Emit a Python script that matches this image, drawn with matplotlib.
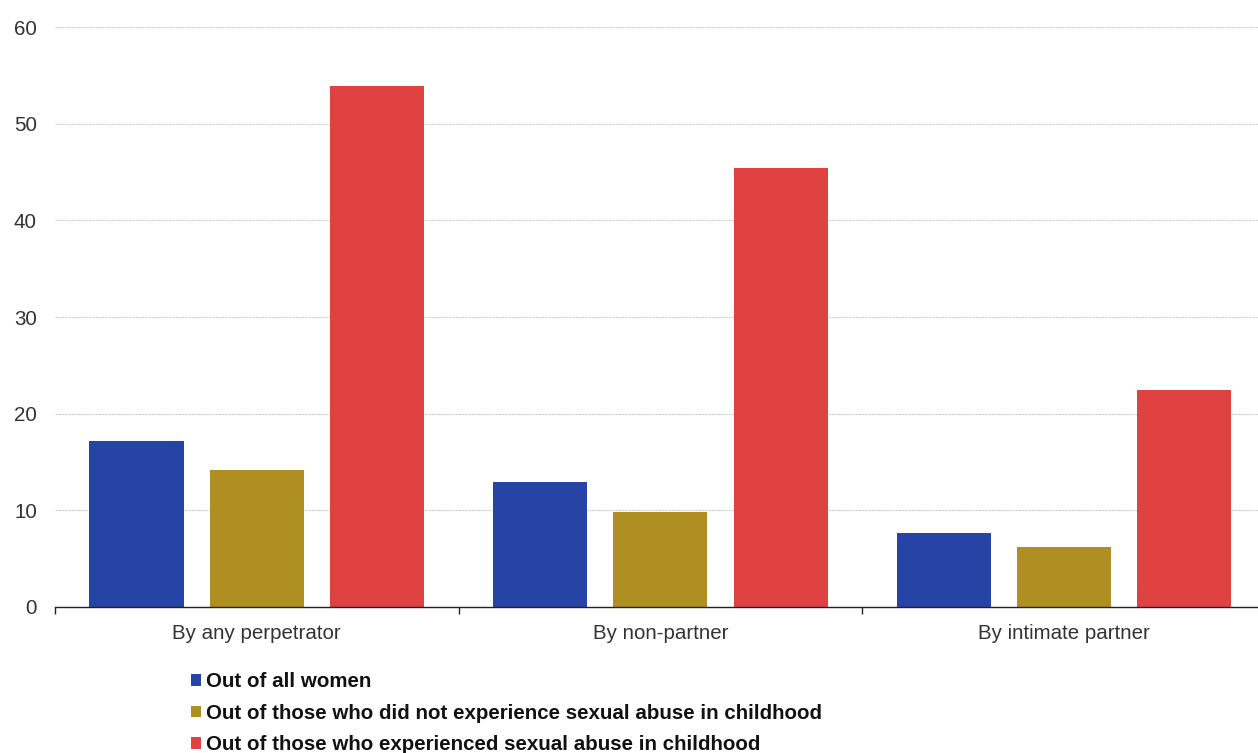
import numpy as np
import matplotlib
matplotlib.use("Agg")
from matplotlib import pyplot as plt

plt.rcParams['font.family'] = ['Liberation Sans', 'DejaVu Sans']

categories = ['By any perpetrator', 'By non-partner', 'By intimate partner']
series_names = [
    'Out of all women',
    'Out of those who did not experience sexual abuse in childhood',
    'Out of those who experienced sexual abuse in childhood',
]
all_women = [17.2, 12.9, 7.7]
not_abused = [14.2, 9.8, 6.2]
abused = [53.9, 45.4, 22.4]
colors = ['#2644a6', '#b08f22', '#e04242']
y_ticks = [0, 10, 20, 30, 40, 50, 60]

fig = plt.figure(figsize=(12.58, 7.53), dpi=100)
ax = fig.add_axes([0.0437, 0.194, 0.9626, 0.770])

x = np.arange(len(categories))
width = 0.233
offsets = [-0.298, 0.0, 0.298]
for vals, off, col, name in zip([all_women, not_abused, abused], offsets, colors, series_names):
    ax.bar(x + off, vals, width, color=col, label=name, zorder=3)

ax.set_xlim(-0.5, 2.5)
ax.set_ylim(0, 60)
ax.set_yticks(y_ticks)
ax.set_xticks(x)
ax.set_xticklabels(categories)
ax.set_xticks([-0.5, 0.5, 1.5, 2.5], minor=True)

ax.yaxis.grid(True, color='#cccccc', linestyle=(0, (2, 1)), linewidth=0.8, zorder=0)
ax.xaxis.grid(False)
for s in ['left', 'right', 'top']:
    ax.spines[s].set_visible(False)
ax.spines['bottom'].set_color('#222222')
ax.spines['bottom'].set_linewidth(1.0)
ax.spines['bottom'].set_zorder(4)

ax.tick_params(axis='y', length=0, pad=13, labelsize=14.8, labelcolor='#333333')
ax.tick_params(axis='x', which='major', length=0, pad=12, labelsize=14.8, labelcolor='#333333')
ax.tick_params(axis='x', which='minor', length=5, width=1, color='#222222', direction='out')

leg = fig.legend(loc='upper left', bbox_to_anchor=(0.145, 0.118), frameon=False,
                 prop={'weight': 'bold', 'size': 14.8}, handlelength=0.5, handleheight=0.5,
                 handletextpad=0.25, labelspacing=0.6, borderaxespad=0)
for t in leg.get_texts():
    t.set_color('#111111')

fig.savefig('out.png', dpi=100)
